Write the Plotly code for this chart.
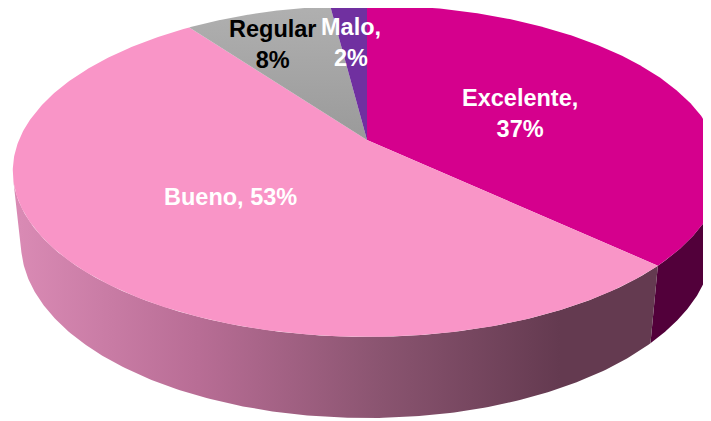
import numpy as np
import plotly.graph_objects as go

# ---- data ----
categories = ["Excelente", "Bueno", "Regular", "Malo"]
values = [37, 53, 8, 2]
label_text = ["Excelente,<br>37%", "Bueno, 53%", "Regular<br>8%", "Malo,<br>2%"]

# ---- styles ----
top_colors = ["#d5008d", "#f995c7", None, "#7030a0"]
label_colors = ["white", "white", "black", "white"]
label_pos = [(520, 113), (230, 197), (273, 44), (351, 42)]

# the page body has an 8px default margin; shift axis ranges so that
# axis units coincide with page pixels
OFF = 8

# ---- 3D projection (perspective view of a tilted disc) ----
CX, CY, S = 367, 140, 348
ALPHA = np.radians(27.4)
D = 4.757
H = 0.234


def proj(theta, level):
    X = np.sin(theta)
    Z = np.cos(theta)
    Y = -H * level
    Yp = Y * np.cos(ALPHA) + Z * np.sin(ALPHA)
    Zp = Z * np.cos(ALPHA) - Y * np.sin(ALPHA)
    k = D / (D + Zp)
    return CX + S * X * k, CY - S * Yp * k


# visible range of the cylinder side
lim = np.arccos(-1.0 / (D * np.cos(ALPHA)))
vis_a, vis_b = lim, 2 * np.pi - lim

total = sum(values)
cum = np.concatenate([[0], np.cumsum(values)]) / total * 2 * np.pi

fig = go.Figure()

# side faces
side_styles = {
    0: dict(fillcolor="#52003a"),
    1: dict(fillgradient=dict(type="horizontal", start=20, stop=560,
                              colorscale=[[0, "#d98ab4"], [0.33, "#b86d95"],
                                          [0.67, "#8a5470"], [1, "#643a50"]])),
}
for i in range(len(values)):
    a, b = max(cum[i], vis_a), min(cum[i + 1], vis_b)
    if b <= a:
        continue
    t = np.linspace(a, b, 200)
    xt, yt = proj(t, 0)
    xb, yb = proj(t[::-1], 1)
    xs = np.concatenate([xt, xb, xt[:1]])
    ys = np.concatenate([yt, yb, yt[:1]])
    st = side_styles.get(i, dict(fillcolor="#555555"))
    fig.add_trace(go.Scatter(x=xs, y=ys, mode="lines", fill="toself",
                             line=dict(width=0), hoverinfo="skip",
                             showlegend=False, **st))

# top faces
for i in range(len(values)):
    t = np.linspace(cum[i], cum[i + 1], 300)
    xt, yt = proj(t, 0)
    xs = np.concatenate([[CX], xt, [CX]])
    ys = np.concatenate([[CY], yt, [CY]])
    if i == 2:
        st = dict(fillgradient=dict(type="vertical", start=5, stop=140,
                                    colorscale=[[0, "#b0b0b0"], [1, "#9a9a9a"]]))
    else:
        st = dict(fillcolor=top_colors[i])
    fig.add_trace(go.Scatter(x=xs, y=ys, mode="lines", fill="toself",
                             line=dict(width=0), hoverinfo="skip",
                             name=categories[i], showlegend=False, **st))

for i, txt in enumerate(label_text):
    fig.add_annotation(x=label_pos[i][0], y=label_pos[i][1], text=txt,
                       showarrow=False, xanchor="center", yanchor="middle",
                       font=dict(family="Liberation Sans, Arial", size=23.5,
                                 color=label_colors[i], weight="bold"))

fig.update_layout(
    width=711, height=421,
    margin=dict(l=0, r=0, t=0, b=0),
    paper_bgcolor="white", plot_bgcolor="white",
    xaxis=dict(range=[OFF, 711 + OFF], visible=False, fixedrange=True),
    yaxis=dict(range=[421 + OFF, OFF], visible=False, fixedrange=True),
)

fig.write_html("out.html")
